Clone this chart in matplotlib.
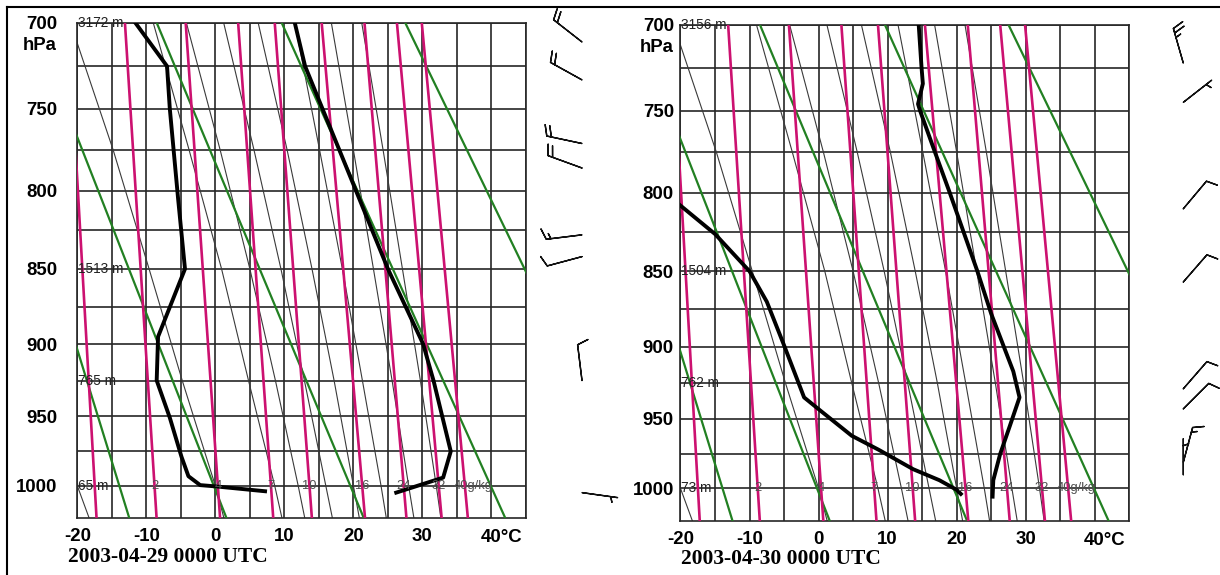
import numpy as np
import matplotlib
matplotlib.use('Agg')
import matplotlib.pyplot as plt
from matplotlib.lines import Line2D

plt.rcParams['font.family'] = ['Liberation Sans', 'DejaVu Sans']

KAPPA = 0.286

# ---- diagram background (same on both charts) ----
iso_temps = np.arange(-20, 46, 5)
isobars = np.arange(700, 1001, 25)
tick_temps = [-20, -10, 0, 10, 20, 30]
tick_press = [700, 750, 800, 850, 900, 950, 1000]

# dry adiabats (green), T in degC at 700 and 1025 hPa
dry_top = [-34.6, -26.5, -8.5, 9.6, 27.5]
dry_bot = [-12.4, 1.7, 21.6, 42.1, 62.4]

# mixing ratio lines (pink), T at 700 and 1025 hPa
mix_labels = ['', '2', '4', '7', '10', '16', '24', '32', '40g/kg']
mix_top = [-21.3, -13.1, -4.3, 3.3, 8.6, 15.4, 21.6, 26.3, 29.9]
mix_bot = [-17.2, -8.5, 0.7, 8.4, 14.0, 21.7, 27.7, 32.8, 36.6]

# moist adiabats (thin black)
moist_p = [700, 775, 850, 925, 1000, 1025]
moist_t = [
    [-43.5, -36.5, -30.2, -25.1, -20.0, -18.2],
    [-21.0, -14.8, -9.6, -4.8, 0.0, 1.3],
    [-9.0, -3.8, 0.9, 4.8, 8.6, 9.7],
    [-4.2, 0.7, 5.0, 8.7, 12.0, 13.0],
    [1.2, 5.6, 9.5, 12.9, 16.0, 17.0],
    [6.2, 10.4, 14.0, 17.2, 20.0, 20.9],
    [11.5, 15.1, 18.4, 21.3, 24.0, 24.8],
    [16.8, 20.0, 22.9, 25.6, 28.0, 28.8],
    [21.2, 24.3, 27.1, 29.7, 32.0, 32.7],
]

# ---- soundings ----
s1_t_p = [700, 725, 850, 900, 925, 975, 994, 1005]
s1_t = [11.5, 13.0, 25.0, 30.1, 31.6, 34.1, 33.0, 26.2]
s1_td_p = [700, 725, 750, 805, 850, 895, 925, 951, 979, 993, 999.5, 1000.5, 1004]
s1_td = [-11.6, -7.0, -6.6, -5.4, -4.4, -8.3, -8.5, -6.6, -4.9, -3.9, -2.2, 0.2, 7.2]
s1_hgt_p = [700, 850, 925, 1000]
s1_hgt = ['3172 m', '1513 m', '765 m', '65 m']
s1_wind_p = [711, 733, 771, 786, 828, 842, 925, 1005]
s1_wind_dir = [308, 299, 282, 290, 263, 255, 353, 98]
s1_wind_spd = [20, 20, 20, 20, 15, 10, 10, 5]

s2_t_p = [700, 724, 734, 746, 750, 772, 800, 850, 878, 917, 935, 955, 975, 994, 1006]
s2_t = [14.5, 14.9, 15.1, 14.4, 14.7, 16.6, 19.0, 23.0, 25.0, 28.2, 29.1, 27.7, 26.3, 25.3, 25.2]
s2_td_p = [794, 808, 826, 850, 870, 898, 925, 935, 944, 962, 972, 986, 994, 1001, 1004]
s2_td = [-24.0, -20.0, -15.0, -10.0, -7.5, -5.1, -2.9, -2.1, 0.2, 4.8, 8.7, 13.7, 17.5, 20.0, 20.6]
s2_hgt_p = [700, 850, 925, 1000]
s2_hgt = ['3156 m', '1504 m', '762 m', '73 m']
s2_wind_p = [722, 745, 810, 857, 929, 943, 981, 990]
s2_wind_dir = [344, 52, 40, 41, 41, 45, 15, 0]
s2_wind_spd = [25, 5, 10, 10, 10, 10, 15, 5]

dates = ['2003-04-29 0000 UTC', '2003-04-30 0000 UTC']

GRID = '#262626'
PINK = '#cc1170'
GREEN = '#228022'
P_TOP, P_BOT, P_LINE_BOT = 700, 1024, 1025
LABEL_KW = dict(fontsize=13.4, fontweight='bold')


def fwd(p):
    return np.power(np.clip(p, 1e-3, None), KAPPA)


def inv(y):
    return np.power(np.clip(y, 1e-3, None), 1.0 / KAPPA)


W, H = 1220, 575
fig = plt.figure(figsize=(12.2, 5.75), dpi=100)


def px_rect(x0, y0, x1, y1):
    return [x0 / W, 1 - y1 / H, (x1 - x0) / W, (y1 - y0) / H]


def draw_stuve(rect, t_p, t, td_p, td, hgt_p, hgt, ylab_pad):
    ax = fig.add_axes(rect)
    ax.set_yscale('function', functions=(fwd, inv))
    ax.set_xlim(-20, 45)
    ax.set_ylim(P_BOT, P_TOP)

    for x in iso_temps:
        ax.axvline(x, color=GRID, lw=1.2, zorder=1)
    for p in isobars:
        ax.axhline(p, color=GRID, lw=1.2, zorder=1)

    for row in moist_t:
        ax.plot(row, moist_p, color='#3a3a3a', lw=0.8, zorder=2)
    for a, b in zip(dry_top, dry_bot):
        ax.plot([a, b], [P_TOP, P_LINE_BOT], color=GREEN, lw=1.6, zorder=3)
    frac = (fwd(1000) - fwd(P_TOP)) / (fwd(P_LINE_BOT) - fwd(P_TOP))
    for a, b, lab in zip(mix_top, mix_bot, mix_labels):
        ax.plot([a, b], [P_TOP, P_LINE_BOT], color=PINK, lw=1.9, zorder=3)
        if lab:
            # the long "40g/kg" label starts just right of the "32" label
            ha = 'left' if len(lab) > 2 else 'center'
            xl = a + (b - a) * frac - (1.6 if ha == 'left' else 0)
            ax.text(xl, 1000, lab, ha=ha, va='center',
                    fontsize=9.3, color='#505050', zorder=6)

    ax.plot(t, t_p, color='k', lw=2.8, zorder=5, solid_joinstyle='round')
    ax.plot(td, td_p, color='k', lw=2.8, zorder=5, solid_joinstyle='round')

    for p, s in zip(hgt_p, hgt):
        ax.text(-19.9, p, s, ha='left', va='center', fontsize=9.8,
                color='#222222', zorder=6)

    for sp in ax.spines.values():
        sp.set_color(GRID)
        sp.set_linewidth(1.2)
    ax.set_xticks(tick_temps)
    ax.set_xticklabels([str(v) for v in tick_temps], **LABEL_KW)
    ax.set_yticks(tick_press)
    ax.set_yticklabels([str(v) for v in tick_press], **LABEL_KW)
    ax.yaxis.set_minor_locator(matplotlib.ticker.NullLocator())
    ax.tick_params(axis='x', length=0, pad=7)
    ax.tick_params(axis='y', length=0, pad=ylab_pad)
    ax.text(38.4, -0.022, '40\u00b0C', transform=ax.get_xaxis_transform(),
            ha='left', va='top', **LABEL_KW)
    return ax


def draw_barbs(rect, xmax, xst, wp, wdir, wspd, ax_main):
    axb = fig.add_axes(rect, sharey=ax_main)
    axb.set_xlim(0, xmax)
    axb.axis('off')
    d = np.radians(wdir)
    spd = np.array(wspd, dtype=float)
    u = -spd * np.sin(d)
    v = -spd * np.cos(d)
    axb.barbs(np.full(len(wp), xst), wp, u, v, length=7.2, lw=1.0,
              color='#111111', clip_on=False,
              sizes=dict(height=0.3, spacing=0.13, width=0.22))
    axb.set_ylim(P_BOT, P_TOP)


ax1 = draw_stuve(px_rect(77.3, 22.7, 526, 518.3), s1_t_p, s1_t, s1_td_p, s1_td,
                 s1_hgt_p, s1_hgt, 14.5)
ax2 = draw_stuve(px_rect(680.5, 24.7, 1129.3, 521), s2_t_p, s2_t, s2_td_p, s2_td,
                 s2_hgt_p, s2_hgt, 4.7)

draw_barbs(px_rect(526, 22.7, 626, 518.3), 100, 56,
           s1_wind_p, s1_wind_dir, s1_wind_spd, ax1)
draw_barbs(px_rect(1129.3, 24.7, 1220, 521), 90.7, 54,
           s2_wind_p, s2_wind_dir, s2_wind_spd, ax2)

fig.text(57 / W, 1 - 46 / H, 'hPa', ha='right', va='center', **LABEL_KW)
fig.text(674 / W, 1 - 48 / H, 'hPa', ha='right', va='center', **LABEL_KW)

fig.text(68 / W, 1 - 557 / H, dates[0], ha='left', va='center', fontsize=15.5,
         family='Liberation Serif', weight='bold')
fig.text(681 / W, 1 - 559 / H, dates[1], ha='left', va='center', fontsize=15.5,
         family='Liberation Serif', weight='bold')

fig.add_artist(Line2D([7 / W, 1], [1 - 7 / H, 1 - 7 / H], color='k', lw=1.5,
                      transform=fig.transFigure))
fig.add_artist(Line2D([7 / W, 7 / W], [0, 1 - 7 / H], color='k', lw=1.5,
                      transform=fig.transFigure))

fig.savefig('out.png', dpi=100)
